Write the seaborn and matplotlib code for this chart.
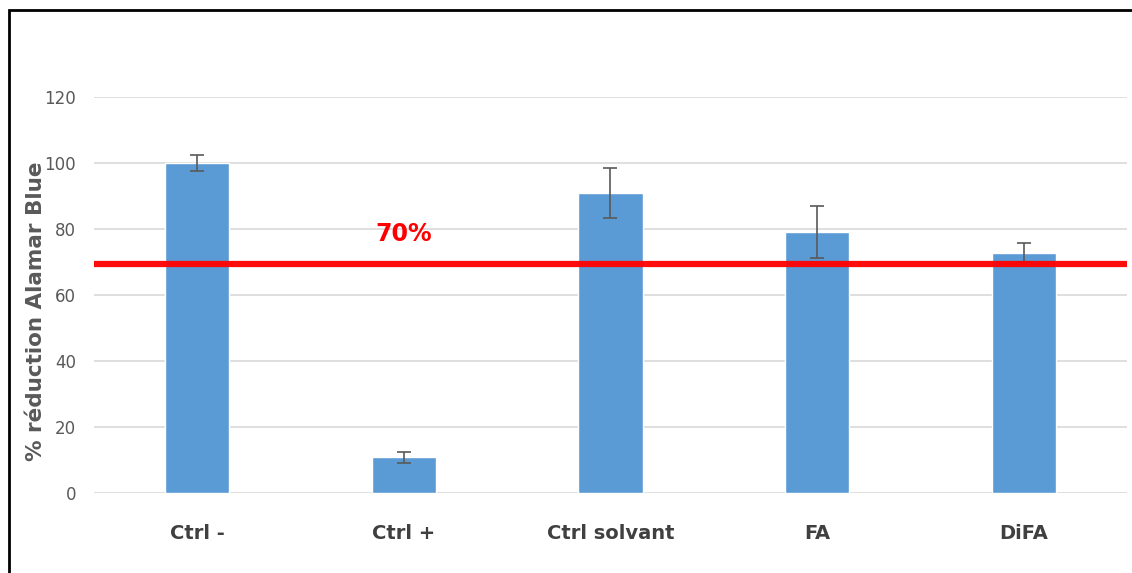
import matplotlib
matplotlib.use('Agg')
import matplotlib.pyplot as plt
import matplotlib.patches as mpatches
import pandas as pd
import seaborn as sns

categories = ['Ctrl -', 'Ctrl +', 'Ctrl solvant', 'FA', 'DiFA']
reduction = [100.0, 10.8, 90.9, 79.2, 72.8]
erreur = [2.4, 1.6, 7.6, 7.9, 2.9]
seuil = 69.5
seuil_label = '70%'
y_ticks = [0, 20, 40, 60, 80, 100, 120]

sns.set_theme(style='white')
plt.rcParams['font.family'] = ['DejaVu Sans']

df = pd.DataFrame({'Groupe': categories, 'Reduction': reduction})

fig = plt.figure(figsize=(11.32, 5.73), dpi=100)
ax = fig.add_axes([0.083, 0.1396, 0.9126, 0.6911])

sns.barplot(data=df, x='Groupe', y='Reduction', color='#5B9BD5',
            width=0.31, saturation=1, errorbar=None, ax=ax, zorder=2)

for bar, err in zip(ax.patches, erreur):
    xc = bar.get_x() + bar.get_width() / 2
    ax.errorbar(xc, bar.get_height(), yerr=err, color='#595959',
                elinewidth=1.2, capsize=5, capthick=1.2, zorder=3)

ax.axhline(seuil, color='#FF0000', lw=4.5, alpha=0.95, zorder=4)
ax.text(1.0, seuil + 5.5, seuil_label, color='#FF0000', fontsize=17,
        fontweight='bold', ha='center', va='bottom')

ax.set_ylim(0, 120)
ax.set_xlim(-0.5, len(categories) - 0.5)
ax.set_yticks(y_ticks)
ax.yaxis.grid(True, color='#D9D9D9', lw=1.2, zorder=0)
ax.set_axisbelow(True)
for s in ax.spines.values():
    s.set_visible(False)
ax.tick_params(axis='both', length=0)
ax.tick_params(axis='y', labelsize=12, labelcolor='#595959', pad=13)
ax.tick_params(axis='x', labelsize=14, labelcolor='#404040', pad=22)
for lab in ax.get_xticklabels():
    lab.set_fontweight('bold')

ax.set_xlabel('')
ax.set_ylabel('% réduction Alamar Blue', fontsize=15.5, fontweight='bold',
              color='#595959')
ax.yaxis.set_label_coords(-0.046, 0.46)

border = mpatches.Rectangle((9 / 1132, -0.1), 1.2, 1 - 10 / 573 + 0.1,
                            transform=fig.transFigure, fill=False,
                            edgecolor='black', lw=2, zorder=10)
fig.patches.append(border)

fig.savefig('out.png', dpi=100)
plt.close(fig)
